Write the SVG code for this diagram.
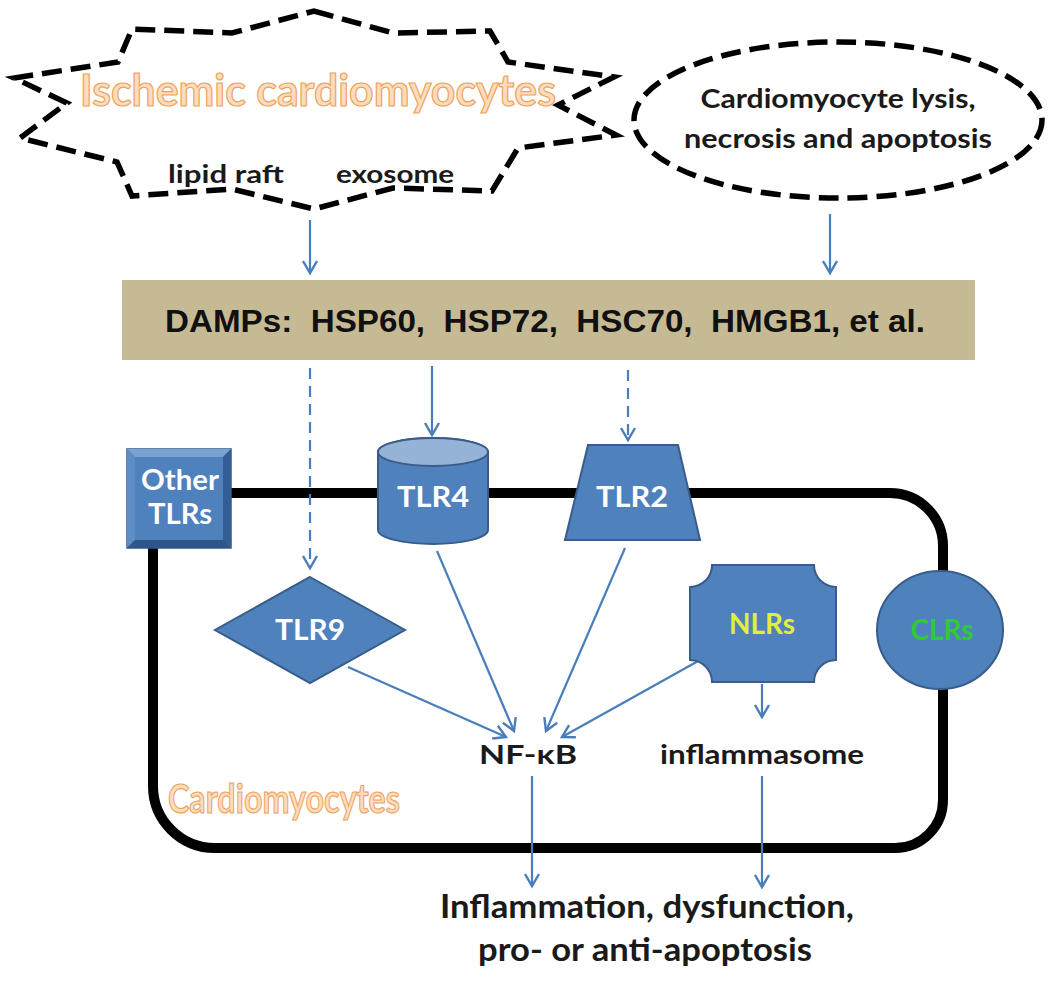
<svg xmlns="http://www.w3.org/2000/svg" width="1050" height="983" viewBox="0 0 1050 983">
<style>
.dash{fill:none;stroke:#000;stroke-width:5.5;stroke-dasharray:20 9;stroke-linejoin:miter}
.shape{fill:#4F81BD;stroke:#385D8A;stroke-width:2}
.lbl{font-family:Lato,"Open Sans",sans-serif;font-weight:bold;text-anchor:middle}
.wl{fill:#fff;font-size:28px}
.blk{fill:#1a1a1a}
.word{font-family:Lato,"Open Sans",sans-serif;font-weight:bold;fill:#FBDDBD;stroke:#EDA35E;stroke-width:1.2;text-anchor:middle}
.arr{fill:none;stroke:#4A7EBB;stroke-width:2.2;marker-end:url(#ah)}
.arrd{fill:none;stroke:#4A7EBB;stroke-width:2.2;stroke-dasharray:11 7;marker-end:url(#ah)}
</style>
<defs>
<marker id="ah" markerUnits="userSpaceOnUse" markerWidth="18" markerHeight="18" viewBox="0 0 18 18" refX="15" refY="9" orient="auto">
<path d="M3 2 L15 9 L3 16" fill="none" stroke="#4A7EBB" stroke-width="2.4"/>
</marker>
</defs>
<rect width="1050" height="983" fill="#fff"/>

<g id="ischemic">
<polygon class="dash" points="314,11 393,33 490,31 508,62 614,77 558,105 616,135 518,148 492,191 393,188 314,209 232,189 132,196 117,162 20,138 67,103 14,78 118,62 132,29 232,33"/>
<text class="word" x="318" y="106" font-size="44" textLength="476" lengthAdjust="spacingAndGlyphs">Ischemic cardiomyocytes</text>
<text class="lbl blk" x="226" y="183" font-size="25" textLength="116" lengthAdjust="spacingAndGlyphs">lipid raft</text>
<text class="lbl blk" x="395" y="183" font-size="25" textLength="118" lengthAdjust="spacingAndGlyphs">exosome</text>
</g>

<g id="lysis">
<ellipse class="dash" cx="838" cy="120" rx="204" ry="78"/>
<text class="lbl blk" x="838" y="108" font-size="27" textLength="275" lengthAdjust="spacingAndGlyphs">Cardiomyocyte lysis,</text>
<text class="lbl blk" x="838" y="148" font-size="27" textLength="308" lengthAdjust="spacingAndGlyphs">necrosis and apoptosis</text>
</g>

<g id="damps">
<rect x="122" y="280" width="853" height="80" fill="#C6BA95"/>
<text x="545" y="332" font-family="'Liberation Sans',Arial,sans-serif" font-weight="bold" font-size="31" fill="#111" text-anchor="middle" textLength="760" lengthAdjust="spacingAndGlyphs" xml:space="preserve">DAMPs:  HSP60,  HSP72,  HSC70,  HMGB1, et al.</text>
</g>

<g id="membrane">
<path d="M230 493 H890 A53 53 0 0 1 943 546 V800 A48 48 0 0 1 895 848 H215 A62 62 0 0 1 153 786 V546" fill="none" stroke="#000" stroke-width="10"/>
</g>

<g id="connectors">
<path class="arr" d="M310 220 V273"/>
<path class="arr" d="M830 214 V273"/>
<path class="arrd" d="M310 368 V568"/>
<path class="arr" d="M432 366 V435"/>
<path class="arrd" d="M628 370 V440"/>
<path class="arr" d="M348 667 L506 737"/>
<path class="arr" d="M437 551 L514 731"/>
<path class="arr" d="M625 548 L546 731"/>
<path class="arr" d="M700 660 L562 737"/>
<path class="arr" d="M762 684 V717"/>
<path class="arr" d="M532 776 V886"/>
<path class="arr" d="M762 776 V887"/>
</g>

<g id="other-tlrs">
<rect x="127" y="449" width="104" height="99" fill="#3F6FA8" stroke="#2F5A8F" stroke-width="1.5"/>
<polygon points="127,449 231,449 223,457 135,457" fill="#7BA1D0"/>
<polygon points="127,449 135,457 135,540 127,548" fill="#5E8DC6"/>
<polygon points="231,449 231,548 223,540 223,457" fill="#335E95"/>
<polygon points="127,548 231,548 223,540 135,540" fill="#2D5689"/>
<rect x="135" y="457" width="88" height="83" fill="#4F81BD"/>
<text class="lbl wl" x="180" y="490" textLength="78" lengthAdjust="spacingAndGlyphs">Other</text>
<text class="lbl wl" x="180" y="524" textLength="64" lengthAdjust="spacingAndGlyphs">TLRs</text>
</g>

<g id="tlr4">
<path class="shape" d="M378 452 V530 A55 14 0 0 0 488 530 V452 A55 14 0 0 0 378 452 Z"/>
<ellipse cx="433" cy="452" rx="55" ry="14" fill="#95B3D7" stroke="#385D8A" stroke-width="2"/>
<text class="lbl wl" x="433" y="507" textLength="72" lengthAdjust="spacingAndGlyphs">TLR4</text>
</g>

<g id="tlr2">
<polygon class="shape" points="588,445 678,445 700,540 565,540"/>
<text class="lbl wl" x="632" y="507" textLength="72" lengthAdjust="spacingAndGlyphs">TLR2</text>
</g>

<g id="tlr9">
<polygon class="shape" points="310,577 405,630 310,683 215,630"/>
<text class="lbl wl" x="310" y="640" textLength="70" lengthAdjust="spacingAndGlyphs">TLR9</text>
</g>

<g id="nlrs">
<path class="shape" d="M712 565 H814 A22 22 0 0 0 836 587 V660 A22 22 0 0 0 814 682 H712 A22 22 0 0 0 690 660 V587 A22 22 0 0 0 712 565 Z"/>
<text class="lbl" x="762" y="634" font-size="28" fill="#E3EE3A" textLength="66" lengthAdjust="spacingAndGlyphs">NLRs</text>
</g>

<g id="clrs">
<ellipse class="shape" cx="940" cy="630" rx="63" ry="59"/>
<text class="lbl" x="942" y="640" font-size="28" fill="#2FCB35" textLength="63" lengthAdjust="spacingAndGlyphs">CLRs</text>
</g>

<g id="nfkb">
<text class="lbl blk" x="528" y="764" font-size="26" textLength="98" lengthAdjust="spacingAndGlyphs">NF-κB</text>
</g>

<g id="inflammasome">
<text class="lbl blk" x="762" y="764" font-size="27" textLength="204" lengthAdjust="spacingAndGlyphs">inflammasome</text>
</g>

<g id="cell-label">
<text class="word" x="284" y="813" font-size="40" textLength="232" lengthAdjust="spacingAndGlyphs">Cardiomyocytes</text>
</g>

<g id="outcome">
<text class="lbl blk" x="647" y="918" font-size="33" textLength="414" lengthAdjust="spacingAndGlyphs">Inflammation, dysfunction,</text>
<text class="lbl blk" x="645" y="961" font-size="33" textLength="334" lengthAdjust="spacingAndGlyphs">pro- or anti-apoptosis</text>
</g>
</svg>
